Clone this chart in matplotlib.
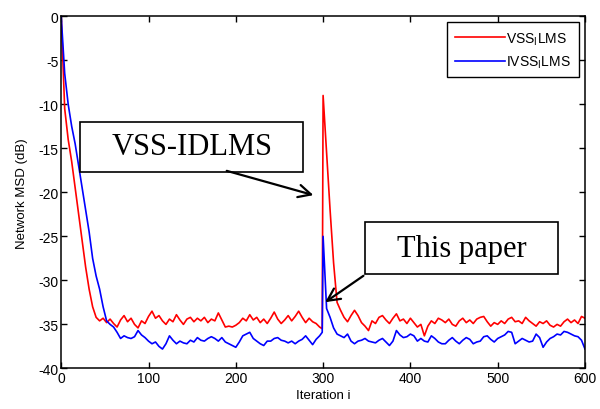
import numpy as np
import matplotlib
matplotlib.use("Agg")
import matplotlib.pyplot as plt
from matplotlib.patches import Rectangle

# ── Data (every 4 iterations + the sample just before the jump) ──

iterations = np.r_[np.arange(0, 300, 4), 299, np.arange(300, 601, 4)]

msd_vss = [
    0.0, -10.5, -14.0, -16.5, -19.5, -22.5, -25.5, -28.5, -31.0, -33.0,
    -34.2, -34.6, -34.3, -34.8, -34.4, -34.9, -35.3, -34.5, -34.0, -34.7,
    -34.3, -35.0, -35.4, -34.6, -34.9, -34.1, -33.5, -34.3, -34.0, -34.6,
    -35.0, -34.4, -34.7, -33.9, -34.5, -35.0, -34.4, -34.2, -34.7, -34.3,
    -34.6, -34.2, -34.8, -34.4, -34.6, -33.7, -34.5, -35.3, -35.2, -35.3,
    -35.1, -34.8, -34.3, -34.6, -33.9, -34.5, -34.2, -34.8, -34.4, -34.9,
    -34.3, -33.6, -34.4, -34.9, -34.5, -34.0, -34.6, -34.1, -33.5, -34.2,
    -34.8, -34.3, -34.7, -34.9, -35.3, -35.5,
    -9.0, -15.5, -22.0, -28.0, -32.5,
    -33.4, -34.2, -34.7, -34.0, -33.4, -34.0, -34.8, -35.2, -35.7, -34.6,
    -34.9, -34.2, -34.0, -34.5, -34.9, -34.3, -33.8, -34.6, -34.4, -34.9,
    -34.3, -34.8, -35.3, -35.0, -36.3, -35.2, -34.6, -34.9, -34.3, -34.5,
    -34.8, -34.4, -35.0, -35.2, -34.6, -34.3, -34.8, -34.5, -34.9, -34.4,
    -34.2, -34.1, -34.7, -35.2, -34.8, -35.0, -34.6, -34.9, -34.4, -34.2,
    -34.7, -34.6, -34.9, -34.2, -34.6, -34.9, -35.2, -34.7, -34.9, -34.6,
    -35.1, -35.3, -35.0, -35.2, -34.7, -34.4, -34.8, -34.5, -34.9, -34.1,
    -34.3,
]

msd_ivss = [
    0.0, -6.5, -10.0, -12.5, -14.5, -17.0, -19.5, -22.0, -24.5, -27.5,
    -29.5, -31.0, -33.0, -34.6, -35.0, -35.3, -35.9, -36.6, -36.3, -36.5,
    -36.6, -36.4, -35.7, -36.2, -36.5, -36.9, -37.2, -37.0, -37.5, -37.8,
    -37.2, -36.3, -36.8, -37.2, -36.9, -37.1, -37.2, -36.8, -37.0, -36.5,
    -36.8, -36.9, -36.6, -36.4, -36.6, -36.9, -36.5, -37.0, -37.2, -37.4,
    -37.6, -37.0, -36.3, -36.1, -35.9, -36.6, -36.9, -37.2, -37.4, -36.9,
    -36.9, -36.6, -36.5, -36.8, -36.9, -37.1, -36.9, -37.2, -36.9, -36.7,
    -36.3, -36.8, -37.3, -36.7, -36.3, -35.9,
    -25.0, -33.2, -34.2, -35.4, -36.1,
    -36.3, -36.5, -36.1, -36.9, -37.2, -36.9, -36.8, -36.6, -36.9, -37.0,
    -37.1, -36.8, -36.6, -37.0, -37.4, -36.9, -35.7, -36.2, -36.5, -36.4,
    -36.1, -36.3, -36.9, -36.6, -36.9, -37.0, -36.3, -36.6, -37.0, -37.2,
    -37.2, -36.8, -36.5, -36.9, -37.2, -36.8, -36.5, -36.7, -37.2, -37.0,
    -36.9, -36.4, -36.3, -36.7, -37.0, -36.6, -36.4, -36.2, -35.8, -35.9,
    -37.2, -36.9, -36.6, -36.8, -37.0, -36.9, -36.1, -36.5, -37.6, -37.0,
    -36.6, -36.4, -36.1, -36.2, -35.8, -35.9, -36.1, -36.3, -36.4, -36.8,
    -37.8,
]

labels = ["VSS$_\\mathregular{I}$LMS", "IVSS$_\\mathregular{I}$LMS"]
x_ticks = [0, 100, 200, 300, 400, 500, 600]
y_ticks = [-40, -35, -30, -25, -20, -15, -10, -5, 0]

# ── Plot ──────────────────────────────────────────────────────────────────────

plt.rcParams["font.family"] = ["Liberation Sans", "DejaVu Sans"]
plt.rcParams["axes.unicode_minus"] = False

fig = plt.figure(figsize=(6.0, 4.1), dpi=100)
ax = fig.add_axes([0.102, 0.099, 0.873, 0.859])

ax.plot(iterations, msd_vss, color="red", linewidth=1.2, label=labels[0])
ax.plot(iterations, msd_ivss, color="blue", linewidth=1.2, label=labels[1])

ax.set_xlim(0, 600)
ax.set_ylim(-40, 0)
ax.set_xticks(x_ticks)
ax.set_yticks(y_ticks)
ax.tick_params(direction="in", top=True, right=True, length=4, width=1,
               labelsize=10, pad=2)
for sp in ax.spines.values():
    sp.set_linewidth(1.1)

ax.set_xlabel("Iteration i", fontsize=9.5, labelpad=3)
ax.set_ylabel("Network MSD (dB)", fontsize=9.5, labelpad=7)

leg = ax.legend(loc="upper right", fontsize=10, handlelength=3.6,
                fancybox=False, framealpha=1, edgecolor="black",
                borderaxespad=0.45, handletextpad=0.1, borderpad=0.55,
                labelspacing=0.5)
leg.get_frame().set_linewidth(1.0)

# annotation boxes (axes fraction)
serif = ["Liberation Serif", "DejaVu Serif"]
ax.add_patch(Rectangle((0.036, 0.559), 0.426, 0.140, transform=ax.transAxes,
                       fill=True, facecolor="white", edgecolor="black", lw=1.2, zorder=5))
ax.text(0.249, 0.629, "VSS-IDLMS", transform=ax.transAxes, ha="center", va="center",
        fontsize=22, family=serif, zorder=6)
ax.add_patch(Rectangle((0.580, 0.268), 0.369, 0.147, transform=ax.transAxes,
                       fill=True, facecolor="white", edgecolor="black", lw=1.2, zorder=5))
ax.text(0.765, 0.341, "This paper", transform=ax.transAxes, ha="center", va="center",
        fontsize=22, family=serif, zorder=6)

arrow = dict(arrowstyle="->,head_length=0.9,head_width=0.45", color="black",
             lw=1.6, shrinkA=0, shrinkB=0)
ax.annotate("", xy=(0.4815, 0.492), xytext=(0.316, 0.561),
            xycoords="axes fraction", textcoords="axes fraction",
            arrowprops=arrow, zorder=7)
ax.annotate("", xy=(0.504, 0.188), xytext=(0.577, 0.263),
            xycoords="axes fraction", textcoords="axes fraction",
            arrowprops=arrow, zorder=7)

fig.savefig("out.png", dpi=100)
